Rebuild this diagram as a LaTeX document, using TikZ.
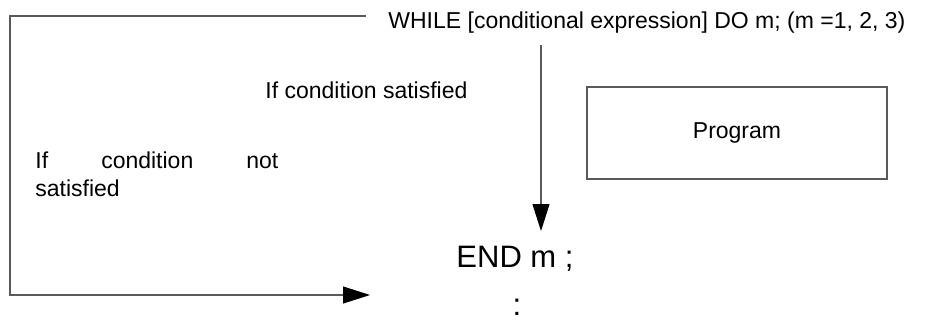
\documentclass[tikz,border=0pt]{standalone}
\usepackage{fontspec}
\setmainfont{Liberation Sans}
\usetikzlibrary{arrows.meta, positioning}
\definecolor{linegray}{RGB}{90, 90, 90}

\begin{document}
\begin{tikzpicture}[
                x=0.5pt, y=-0.5pt,
                every node/.style={inner sep=0pt, font=\fontsize{11.5}{14}\selectfont},
                big/.style={font=\fontsize{15.5}{18}\selectfont},
                line/.style={draw=linegray, line width=0.6pt},
                arrow/.style={line, -{Triangle[length=13.5pt, width=8.5pt, color=black]}}
            ]
                \useasboundingbox (0,0) rectangle (929,321);
                \node (while) [anchor=base west] at (388,28)
                    {WHILE [conditional expression] DO m; (m =1, 2, 3)};
                \node (yes) [anchor=base west] at (265,98) {If condition satisfied};
                \node (no) [anchor=north west, text width=121.5pt, align=justify] at (35,151)
                    {If condition not\linebreak satisfied};
                \node (prog) [draw=linegray, line width=0.6pt, minimum width=150pt,
                    minimum height=46pt] at (737,133) {Program};
                \node (end) [big, anchor=base] at (515,267) {END m ;};
                \node (dots) [big, anchor=base] at (517,315) {:};
                % loop ends
                \coordinate (loopin)  at (366,16);
                \coordinate (loopout) at (370,295);
                \coordinate (condin)  at (541,45);
                \coordinate (condout) at (541,231);
                \draw[arrow] (condin) -- (condout);
                \draw[arrow] (loopin) -- (10,16) -- (10,295) -- (loopout);
            \end{tikzpicture}
\end{document}
